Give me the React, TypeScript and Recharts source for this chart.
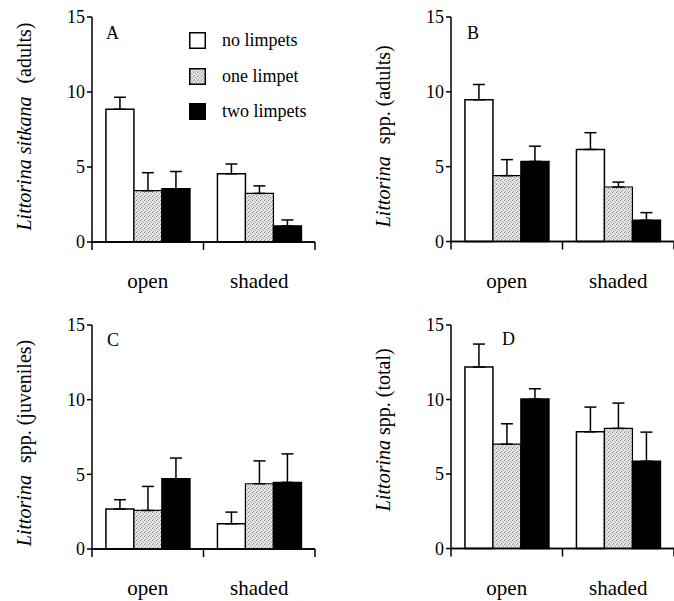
import React from 'react';
import { BarChart, Bar, XAxis, YAxis, ErrorBar, Legend } from 'recharts';

const FONT = "'Liberation Serif', 'Times New Roman', serif";

const categories = ['open', 'shaded'];
const seriesNames = ['no limpets', 'one limpet', 'two limpets'];
const yTicks = [0, 5, 10, 15];

// Panel A: Littorina sitkana (adults)
const aNo = [8.85, 4.55];
const aNoErr = [0.8, 0.65];
const aOne = [3.42, 3.24];
const aOneErr = [1.2, 0.5];
const aTwo = [3.55, 1.07];
const aTwoErr = [1.15, 0.4];

// Panel B: Littorina spp. (adults)
const bNo = [9.47, 6.15];
const bNoErr = [1.02, 1.12];
const bOne = [4.4, 3.64];
const bOneErr = [1.07, 0.33];
const bTwo = [5.35, 1.42];
const bTwoErr = [1.02, 0.51];

// Panel C: Littorina spp. (juveniles)
const cNo = [2.68, 1.69];
const cNoErr = [0.62, 0.78];
const cOne = [2.58, 4.37];
const cOneErr = [1.61, 1.53];
const cTwo = [4.7, 4.46];
const cTwoErr = [1.39, 1.91];

// Panel D: Littorina spp. (total)
const dNo = [12.18, 7.83];
const dNoErr = [1.54, 1.66];
const dOne = [7.0, 8.06];
const dOneErr = [1.37, 1.7];
const dTwo = [10.03, 5.86];
const dTwoErr = [0.69, 1.95];

function buildData(no: number[], noE: number[], one: number[], oneE: number[], two: number[], twoE: number[]) {
  return categories.map((c, i) => ({
    cat: c,
    no: no[i],
    noE: [0, noE[i]],
    one: one[i],
    oneE: [0, oneE[i]],
    two: two[i],
    twoE: [0, twoE[i]],
  }));
}

const dataA = buildData(aNo, aNoErr, aOne, aOneErr, aTwo, aTwoErr);
const dataB = buildData(bNo, bNoErr, bOne, bOneErr, bTwo, bTwoErr);
const dataC = buildData(cNo, cNoErr, cOne, cOneErr, cTwo, cTwoErr);
const dataD = buildData(dNo, dNoErr, dOne, dOneErr, dTwo, dTwoErr);

const PLOT_W = 223;
const BAND = PLOT_W / categories.length;
const Y_TICK_SIZE = 5;
const Y_TICK_MARGIN = 2;

const CatTick = (props: any) => {
  const { x, y, payload } = props;
  return (
    <text x={x} y={y + 46} textAnchor="middle" fontSize={21} fontFamily={FONT} fill="#000">
      {payload.value}
    </text>
  );
};

// y tick: value label; at value 0 it also draws the category baseline with boundary ticks
const YTick = (props: any) => {
  const { x, y, payload } = props;
  const axisX = x + Y_TICK_SIZE + Y_TICK_MARGIN;
  const edges = [0, 1, 2];
  return (
    <g>
      <text x={x} y={y} dy="0.36em" textAnchor="end" fontSize={18} fontFamily={FONT} fill="#000">
        {payload.value}
      </text>
      {payload.value === 0 ? (
        <g>
          <line x1={axisX} x2={axisX + PLOT_W} y1={y} y2={y} stroke="#000" strokeWidth={1.5} />
          {edges.map((k) => (
            <line key={k} x1={axisX + k * BAND} x2={axisX + k * BAND} y1={y} y2={y + 8} stroke="#000" strokeWidth={1.5} />
          ))}
        </g>
      ) : null}
    </g>
  );
};

const LegendContent = (props: any) => {
  const payload = props.payload || [];
  return (
    <div style={{ fontFamily: FONT, fontSize: 18, color: '#000' }}>
      {payload.map((p: any, i: number) => (
        <div key={i} style={{ display: 'flex', alignItems: 'center', height: 35.5 }}>
          <svg width={17} height={17} style={{ display: 'block' }}>
            <rect x={0.75} y={0.75} width={15.5} height={15.5} fill={p.color} stroke="#000" strokeWidth={1.5} />
          </svg>
          <span style={{ marginLeft: 16, whiteSpace: 'nowrap' }}>{p.value}</span>
        </div>
      ))}
    </div>
  );
};

type PanelProps = {
  id: string;
  data: any[];
  left: number;
  top: number;
  width: number;
  height: number;
  margin: { top: number; right: number; bottom: number; left: number };
  letter: string;
  letterDx: number;
  letterDy: number;
  italic: string;
  rest: string;
  gap: number;
  labelShift: number;
  legend?: boolean;
};

const AXIS_H = 58;

const Panel = (p: PanelProps) => {
  const pat = `stipple-${p.id}`;
  const plotLeft = p.margin.left + 60;
  const plotTop = p.margin.top;
  const plotH = p.height - p.margin.top - p.margin.bottom - AXIS_H;
  const labelX = plotLeft - 68;
  const labelY = plotTop + plotH / 2 + p.labelShift;
  return (
    <div style={{ position: 'absolute', left: p.left, top: p.top }}>
      <BarChart
        width={p.width}
        height={p.height}
        data={p.data}
        margin={p.margin}
        barCategoryGap="12.5%"
        barGap={0}
      >
        <defs>
          <pattern id={pat} width={4} height={4} patternUnits="userSpaceOnUse">
            <rect x={0} y={0} width={4} height={4} fill="#e2e2e2" />
            <rect x={0} y={0} width={1} height={1} fill="#8c8c8c" />
            <rect x={2} y={1} width={1} height={1} fill="#a8a8a8" />
            <rect x={1} y={3} width={1} height={1} fill="#9a9a9a" />
            <rect x={3} y={2} width={1} height={1} fill="#b5b5b5" />
          </pattern>
        </defs>
        <XAxis
          dataKey="cat"
          height={AXIS_H}
          axisLine={{ stroke: '#000', strokeWidth: 1.5 }}
          tickLine={false}
          tickSize={0}
          tickMargin={0}
          tick={CatTick}
          interval={0}
        />
        <YAxis
          width={60}
          domain={[0, 15]}
          ticks={yTicks}
          tickSize={Y_TICK_SIZE}
          tickMargin={Y_TICK_MARGIN}
          axisLine={{ stroke: '#000', strokeWidth: 1.5 }}
          tickLine={{ stroke: '#000', strokeWidth: 1.5 }}
          tick={YTick}
        />
        <Bar dataKey="no" name={seriesNames[0]} fill="#ffffff" stroke="#000" strokeWidth={1.5} isAnimationActive={false}>
          <ErrorBar dataKey="noE" width={6} stroke="#000" strokeWidth={1.5} direction="y" />
        </Bar>
        <Bar dataKey="one" name={seriesNames[1]} fill={`url(#${pat})`} stroke="#000" strokeWidth={1.2} isAnimationActive={false}>
          <ErrorBar dataKey="oneE" width={6} stroke="#000" strokeWidth={1.5} direction="y" />
        </Bar>
        <Bar dataKey="two" name={seriesNames[2]} fill="#000000" stroke="#000" strokeWidth={1.5} isAnimationActive={false}>
          <ErrorBar dataKey="twoE" width={6} stroke="#000" strokeWidth={1.5} direction="y" />
        </Bar>
        {p.legend ? (
          <Legend
            layout="vertical"
            align="center"
            verticalAlign="middle"
            wrapperStyle={{ left: 189, top: 22.75, width: 140, height: 110 }}
            content={<LegendContent />}
          />
        ) : null}
        <text x={plotLeft + p.letterDx} y={plotTop + p.letterDy} fontSize={18} fontFamily={FONT} fill="#000">
          {p.letter}
        </text>
        <text
          x={labelX}
          y={labelY}
          transform={`rotate(-90 ${labelX} ${labelY})`}
          textAnchor="middle"
          dominantBaseline="central"
          fontSize={20}
          fontFamily={FONT}
          fill="#000"
        >
          <tspan fontStyle="italic">{p.italic}</tspan>
          <tspan dx={p.gap}>{p.rest}</tspan>
        </text>
      </BarChart>
    </div>
  );
};

export default function App() {
  return (
    <div style={{ position: 'absolute', left: 0, top: 0, width: 674, height: 601, background: '#fff', overflow: 'hidden', fontFamily: FONT }}>
      <Panel id="A" data={dataA} left={0} top={0} width={340} height={300}
        margin={{ top: 17, right: 25, bottom: 0, left: 32 }}
        letter="A" letterDx={14} letterDy={22} italic="Littorina sitkana" rest="(adults)" gap={13} labelShift={-3} legend />
      <Panel id="B" data={dataB} left={340} top={0} width={334} height={300}
        margin={{ top: 17, right: 0, bottom: 0.5, left: 51 }}
        letter="B" letterDx={16} letterDy={22} italic="Littorina" rest="spp. (adults)" gap={12} labelShift={7} />
      <Panel id="C" data={dataC} left={0} top={300} width={340} height={301}
        margin={{ top: 25, right: 25, bottom: -6, left: 32 }}
        letter="C" letterDx={15} letterDy={21} italic="Littorina" rest="spp. (juveniles)" gap={12} labelShift={6} />
      <Panel id="D" data={dataD} left={340} top={300} width={334} height={301}
        margin={{ top: 25, right: 0, bottom: -5.5, left: 51 }}
        letter="D" letterDx={51} letterDy={20} italic="Littorina" rest="spp. (total)" gap={5} labelShift={-7} />
    </div>
  );
}
